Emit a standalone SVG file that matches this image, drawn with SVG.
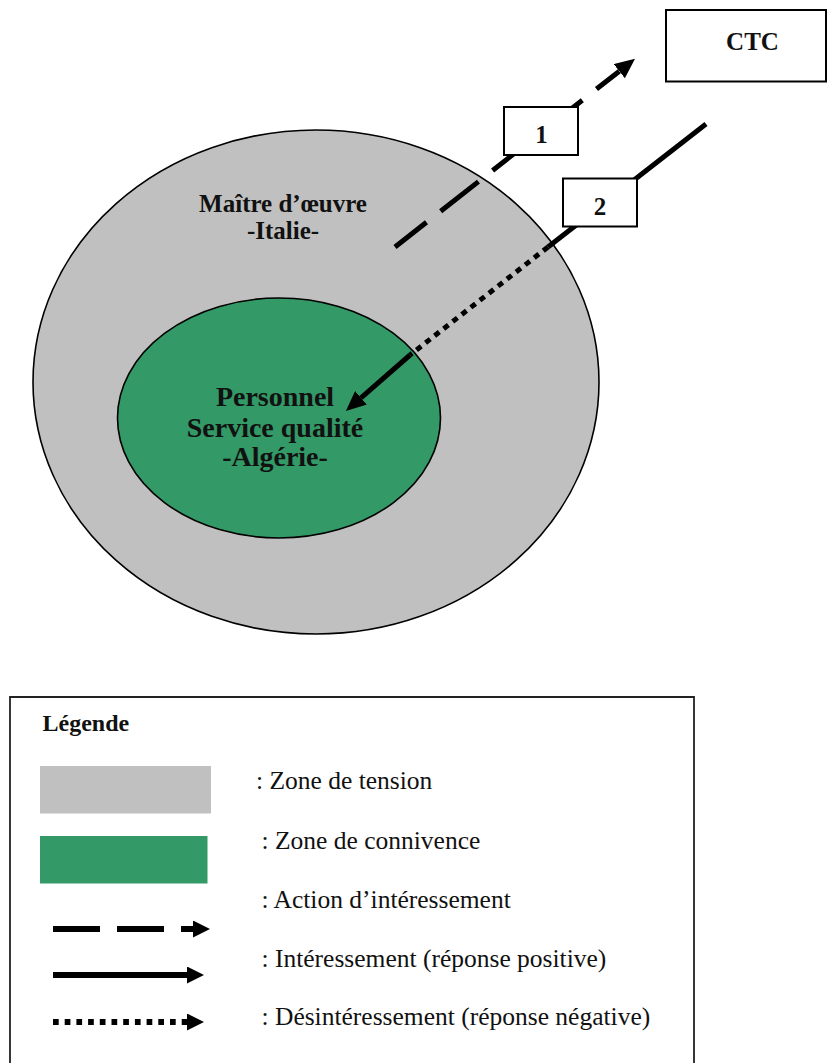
<svg xmlns="http://www.w3.org/2000/svg" width="827" height="1063" viewBox="0 0 827 1063">
<style>
.zone-t{fill:#c0c0c0;stroke:#000;stroke-width:1.6}
.zone-c{fill:#339966;stroke:#000;stroke-width:1.6}
.lbl{font-family:"Liberation Serif","Times New Roman",serif;font-weight:bold;fill:#111;text-anchor:middle}
.box{fill:#fff;stroke:#000;stroke-width:2}
.ln{fill:none;stroke:#000;stroke-width:5;stroke-linecap:butt}
.lg{fill:none;stroke:#000;stroke-width:6;stroke-linecap:butt}
.dash{stroke-dasharray:48 18;stroke-dashoffset:8}
.dot{stroke-dasharray:6 5.5}
.ltxt{font-family:"Liberation Serif","Times New Roman",serif;font-size:25.5px;fill:#111}
</style>
<defs>
<marker id="head" markerUnits="userSpaceOnUse" viewBox="0 0 20 18" markerWidth="20" markerHeight="18" refX="0" refY="9" orient="auto">
<path d="M0,0 L20,9 L0,18 z" fill="#000"/>
</marker>
<marker id="headL" markerUnits="userSpaceOnUse" viewBox="0 0 17 17" markerWidth="17" markerHeight="17" refX="0" refY="8.5" orient="auto">
<path d="M0,0 L17,8.5 L0,17 z" fill="#000"/>
</marker>
</defs>

<g id="zone-tension">
<ellipse class="zone-t" cx="316" cy="382" rx="283" ry="252"/>
<text class="lbl" x="283" y="211.5" font-size="25">Maître d’œuvre</text>
<text class="lbl" x="283" y="239" font-size="25">-Italie-</text>
</g>

<g id="zone-connivence">
<ellipse class="zone-c" cx="279" cy="418" rx="161.5" ry="120"/>
<text class="lbl" x="275" y="406" font-size="28">Personnel</text>
<text class="lbl" x="275" y="436.5" font-size="28">Service qualité</text>
<text class="lbl" x="275" y="466" font-size="28">-Algérie-</text>
</g>

<g id="connectors">
<path class="ln dash" d="M395,247 L619.3,71.2" marker-end="url(#head)"/>
<path class="ln" d="M706,124 L548,247"/>
<path class="ln dot" d="M548,247 L410,355"/>
<path class="ln" d="M410,355 L361,397.8" marker-end="url(#head)"/>
</g>

<g id="label-1">
<rect class="box" x="504" y="107" width="74" height="48"/>
<text class="lbl" x="541.5" y="142.5" font-size="25">1</text>
</g>

<g id="label-2">
<rect class="box" x="563" y="178.5" width="74" height="48"/>
<text class="lbl" x="600" y="215" font-size="25">2</text>
</g>

<g id="ctc">
<rect class="box" x="666" y="10" width="160" height="71.5"/>
<text class="lbl" x="752.5" y="50" font-size="25">CTC</text>
</g>

<g id="legend">
<path d="M10,1070 V697 H694 V1070" fill="none" stroke="#222" stroke-width="1.8"/>
<text x="42.5" y="730.5" font-family="'Liberation Serif','Times New Roman',serif" font-weight="bold" font-size="24" fill="#111">Légende</text>
<rect x="40" y="766" width="171" height="47.5" fill="#c0c0c0"/>
<text class="ltxt" x="256" y="789">: Zone de tension</text>
<rect x="40" y="836" width="167.5" height="47.5" fill="#339966"/>
<text class="ltxt" x="261.5" y="848.5">: Zone de connivence</text>
<text class="ltxt" x="261.5" y="908">: Action d’intéressement</text>
<path class="lg" d="M53,929 L193,929" stroke-dasharray="47 17" marker-end="url(#headL)"/>
<text class="ltxt" x="261.5" y="967">: Intéressement (réponse positive)</text>
<path class="lg" d="M53,975 L187,975" marker-end="url(#headL)"/>
<text class="ltxt" x="261.5" y="1025">: Désintéressement (réponse négative)</text>
<path class="lg" d="M53,1022 L187,1022" stroke-dasharray="5.7 6" marker-end="url(#headL)"/>
</g>
</svg>
